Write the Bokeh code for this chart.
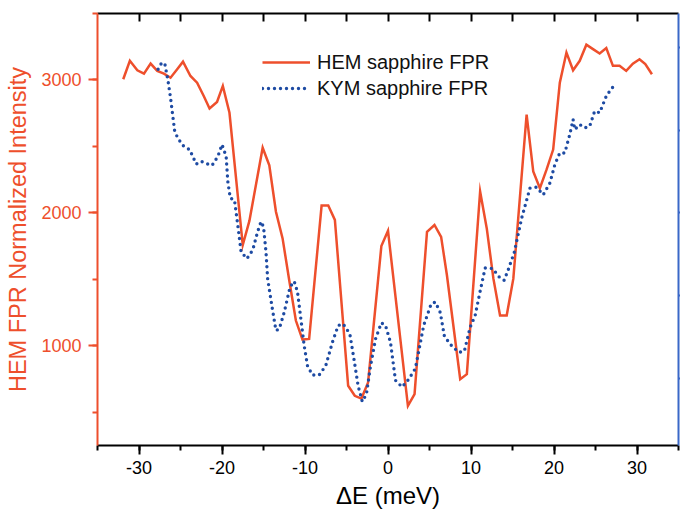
from bokeh.plotting import figure
from bokeh.models import LinearAxis, Range1d, SingleIntervalTicker, FixedTicker
from bokeh.embed import file_html
from bokeh.resources import INLINE

# ---- data ----
hem_x = [-31.9, -31.1, -30.2, -29.4, -28.6, -27.8, -27.0, -26.2, -25.4, -24.7,
         -23.8, -23.0, -22.2, -21.5, -20.6, -19.9, -19.1, -17.5, -16.7, -15.1,
         -14.3, -13.5, -12.7, -11.9, -11.1, -10.3, -9.5, -8.0, -7.2, -6.4,
         -4.8, -4.0, -3.2, -2.4, -0.8, 0.0, 2.4, 3.2, 4.7, 5.6,
         6.4, 7.1, 8.7, 9.5, 11.1, 11.9, 12.7, 13.5, 14.3, 15.1,
         16.7, 17.5, 18.3, 19.1, 19.9, 20.7, 21.5, 22.3, 23.1, 23.9,
         24.7, 25.5, 26.3, 27.1, 27.9, 28.7, 29.5, 30.3, 31.0, 31.8]
hem_y = [3005, 3144, 3073, 3048, 3123, 3068, 3048, 3017, 3081, 3138,
         3030, 2980, 2879, 2786, 2834, 2955, 2753, 1758, 1940, 2490,
         2357, 2009, 1808, 1493, 1190, 1047, 1052, 2055, 2055, 1947,
         699, 624, 603, 724, 1750, 1866, 548, 636, 1858, 1909,
         1820, 1531, 749, 787, 2161, 1883, 1505, 1228, 1228, 1505,
         2740, 2312, 2186, 2325, 2476, 2980, 3206, 3073, 3144, 3265,
         3232, 3199, 3240, 3106, 3106, 3068, 3123, 3156, 3119, 3043]

kym_x = [-27.7, -27.3, -26.9, -26.5, -26.2, -25.7, -25.3, -24.6, -23.9, -23.1,
         -22.5, -21.7, -21.2, -20.5, -20.0, -19.5, -19.3, -19.0, -18.5, -18.1,
         -17.7, -17.0, -16.3, -15.7, -15.3, -15.0, -14.7, -14.5, -14.0, -13.5,
         -13.1, -12.5, -11.8, -11.3, -10.9, -10.5, -10.1, -9.7, -9.1, -8.3,
         -7.5, -6.7, -6.0, -5.4, -4.6, -4.1, -3.6, -3.1, -2.6, -2.1,
         -1.5, -0.8, -0.3, 0.3, 0.9, 1.7, 2.5, 3.3, 4.3, 5.2,
         5.7, 6.3, 6.8, 7.8, 8.6, 9.2, 9.9, 10.5, 11.1, 11.7,
         12.6, 13.5, 14.0, 14.5, 15.2, 16.1, 17.1, 17.9, 18.7, 19.5,
         20.1, 20.7, 21.3, 21.9, 22.3, 22.5, 23.1, 23.7, 24.3, 24.9,
         25.5, 26.3, 27.0, 27.6]
kym_y = [3081, 3126, 3126, 2992, 2866, 2614, 2559, 2500, 2476, 2367,
         2388, 2367, 2357, 2425, 2514, 2425, 2236, 2110, 2098, 1909,
         1707, 1656, 1720, 1860, 1934, 1896, 1707, 1505, 1304, 1115,
         1127, 1253, 1442, 1485, 1405, 1203, 1002, 850, 780, 780,
         850, 1026, 1153, 1165, 1090, 900, 699, 580, 636, 850,
         1052, 1173, 1153, 1026, 740, 690, 749, 830, 1153, 1315,
         1329, 1250, 1070, 990, 951, 960, 1140, 1228, 1410, 1585,
         1582, 1510, 1493, 1575, 1700, 1959, 2186, 2193, 2136, 2224,
         2363, 2451, 2451, 2589, 2703, 2627, 2665, 2640, 2652, 2766,
         2753, 2879, 2942, 2962]

x_ticks = [-30, -20, -10, 0, 10, 20, 30]
x_tick_labels = ["-30", "-20", "-10", "0", "10", "20", "30"]
y_ticks = [1000, 2000, 3000]
y_tick_labels = ["1000", "2000", "3000"]
top_ticks = [-30, -25, -20, -15, -10, -5, 0, 5, 10, 15, 20, 25, 30]
right_ticks = [1, 2, 3, 4, 5]

RED = "#EE4F2C"
BLUE = "#1E4BA3"
RBLUE = "#3A68C8"
FONT = "Liberation Sans"

p = figure(width=680, height=511, x_range=Range1d(-35, 35), y_range=Range1d(250, 3500),
           output_backend="svg", toolbar_location=None,
           min_border_left=97, min_border_top=13, min_border_right=0, min_border_bottom=0)
p.extra_y_ranges = {"right": Range1d(0.185, 5.41)}
p.xgrid.visible = False
p.ygrid.visible = False
p.outline_line_color = None
p.background_fill_color = "white"

p.line(hem_x, hem_y, line_color=RED, line_width=2.5, line_join="miter",
       legend_label="HEM sapphire FPR")
p.line(kym_x, kym_y, line_color=BLUE, line_width=3.4, line_dash="0 6", line_cap="round",
       legend_label="KYM sapphire FPR")

# bottom axis
xa = p.xaxis[0]
xa.ticker = SingleIntervalTicker(interval=10, num_minor_ticks=2)
xa.major_label_overrides = {t: l for t, l in zip(x_ticks, x_tick_labels)}
xa.axis_line_width = 2
xa.axis_line_color = "black"
xa.major_tick_line_width = 2
xa.minor_tick_line_width = 2
xa.major_tick_out = 9
xa.major_tick_in = 0
xa.minor_tick_out = 5
xa.minor_tick_in = 0
xa.major_label_standoff = 6
xa.major_label_text_font = FONT
xa.major_label_text_font_size = "18px"
xa.major_label_text_color = "black"
xa.axis_label = "ΔE (meV)"
xa.axis_label_text_font = FONT
xa.axis_label_text_font_size = "24px"
xa.axis_label_text_font_style = "normal"
xa.axis_label_text_color = "black"
xa.axis_label_standoff = 5

# left axis
ya = p.yaxis[0]
ya.ticker = SingleIntervalTicker(interval=1000, num_minor_ticks=2)
ya.major_label_overrides = {t: l for t, l in zip(y_ticks, y_tick_labels)}
ya.axis_line_width = 2
ya.axis_line_color = RED
ya.major_tick_line_color = RED
ya.minor_tick_line_color = RED
ya.major_tick_line_width = 2
ya.minor_tick_line_width = 2
ya.major_tick_out = 9
ya.major_tick_in = 0
ya.minor_tick_out = 5
ya.minor_tick_in = 0
ya.major_label_standoff = 7
ya.major_label_text_font = FONT
ya.major_label_text_font_size = "18px"
ya.major_label_text_color = RED
ya.axis_label = "HEM FPR Normalized Intensity"
ya.axis_label_text_font = FONT
ya.axis_label_text_font_size = "23.5px"
ya.axis_label_text_font_style = "normal"
ya.axis_label_text_color = RED
ya.axis_label_standoff = 7

# top axis: tick marks only (no labels)
ta = LinearAxis(ticker=FixedTicker(ticks=[], minor_ticks=top_ticks))
ta.axis_line_width = 2
ta.axis_line_color = "black"
ta.minor_tick_line_color = "black"
ta.minor_tick_line_width = 2
ta.minor_tick_in = 8
ta.minor_tick_out = 0
ta.major_tick_in = 0
ta.major_tick_out = 0
ta.major_label_standoff = 0
p.add_layout(ta, "above")

# right axis (blue; its labels fall outside the picture)
ra = LinearAxis(y_range_name="right", ticker=FixedTicker(ticks=[], minor_ticks=right_ticks))
ra.axis_line_width = 2
ra.axis_line_color = RBLUE
ra.minor_tick_line_color = RBLUE
ra.minor_tick_line_width = 2
ra.minor_tick_in = 0
ra.minor_tick_out = 2
ra.major_tick_in = 0
ra.major_tick_out = 0
ra.major_label_standoff = 0
p.add_layout(ra, "right")

lg = p.legend[0]
lg.location = (165, 345)
lg.background_fill_alpha = 0
lg.border_line_color = None
lg.padding = 0
lg.margin = 0
lg.spacing = 2
lg.label_height = 24
lg.glyph_height = 24
lg.glyph_width = 48
lg.label_standoff = 7
lg.label_text_font = FONT
lg.label_text_font_size = "20px"
lg.label_text_color = "#111111"

open("out.html", "w").write(file_html(p, INLINE))
